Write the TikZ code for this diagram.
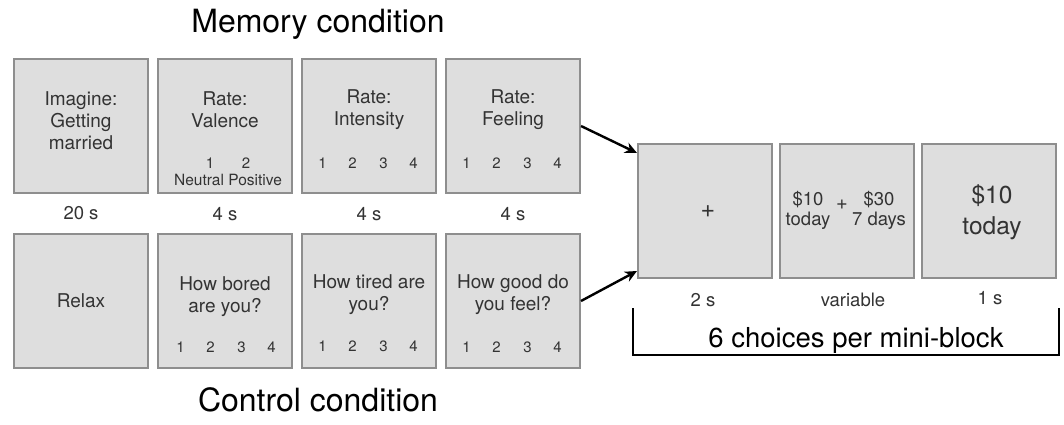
\documentclass[tikz,border=0pt]{standalone}
\usepackage{fontspec}
\setmainfont{TeX Gyre Heros}
\usetikzlibrary{arrows.meta}
\definecolor{panel}{HTML}{DEDEDE}
\definecolor{rim}{HTML}{8E8E8E}
\definecolor{ink}{HTML}{333333}
\newcommand{\ratefour}{\makebox[29pt]{1}\makebox[31pt]{2}\makebox[31pt]{3}\makebox[29pt]{4}}
\tikzset{
  screen/.style={draw=rim,line width=2pt,fill=panel,minimum width=134pt,
    minimum height=134pt,inner sep=0pt},
  txt/.style={align=center,text=ink,font=\fontsize{19}{22}\selectfont,inner sep=0pt},
  dur/.style={text=ink,font=\fontsize{18.5}{22}\selectfont,inner sep=0pt},
  nums/.style={text=ink,font=\fontsize{15}{18}\selectfont,inner sep=0pt},
  head/.style={text=black,font=\fontsize{32}{36}\selectfont,inner sep=0pt,anchor=base},
  flow/.style={-{Stealth[length=12pt,width=11pt]},line width=2.4pt},
  brace/.style={line width=2pt}
}

\begin{document}
\begin{tikzpicture}[x=1pt,y=-1pt]
  \useasboundingbox (0,0) rectangle (1064,425);
  % memory condition
  \node[head] (mem) at (318,33) {Memory condition};
  \node[screen] (m1) at (81,126) {};
  \node[screen] (m2) at (225,126) {};
  \node[screen] (m3) at (369,126) {};
  \node[screen] (m4) at (513,126) {};
  \node[txt] (m1t) at (81,121) {Imagine:\\Getting\\married};
  \node[txt] (m2t) at (225,110) {Rate:\\Valence};
  \node[nums] (m2n) at (228,163) {\makebox[36pt]{1}\makebox[36pt]{2}};
  \node[nums,font=\fontsize{15.5}{18}\selectfont] (m2l) at (228,180) {Neutral Positive};
  \node[txt] (m3t) at (369,110) {Rate:\\Intensity};
  \node[nums] (m3n) at (368,163) {\ratefour};
  \node[txt] (m4t) at (513,110) {Rate:\\Feeling};
  \node[nums] (m4n) at (512,163) {\ratefour};
  \node[dur] (d1) at (81,213) {20 s};
  \node[dur] (d2) at (225,214) {4 s};
  \node[dur] (d3) at (369,214) {4 s};
  \node[dur] (d4) at (513,214) {4 s};

  % control condition
  \node[screen,txt] (c1) at (81,301) {Relax};
  \node[screen] (c2) at (225,301) {};
  \node[screen] (c3) at (369,301) {};
  \node[screen] (c4) at (513,301) {};
  \node[txt] (c2t) at (225,297) {How bored\\are you?};
  \node[nums] (c2n) at (226,347) {\ratefour};
  \node[txt] (c3t) at (369,295) {How tired are\\you?};
  \node[nums] (c3n) at (368,346) {\ratefour};
  \node[txt] (c4t) at (513,295) {How good do\\you feel?};
  \node[nums] (c4n) at (512,347) {\ratefour};
  \node[head] (ctl) at (318,411) {Control condition};

  % choice trial
  \node[screen] (ca) at (705,211) {};
  \node[text=ink,font=\fontsize{25}{28}\selectfont,inner sep=0pt] (cap) at (708,212) {+};
  \node[screen] (cb) at (847,211) {};
  \node[screen] (cc) at (989,211) {};
  \node[txt,font=\fontsize{18.5}{20}\selectfont] (cbl) at (808,210) {\$10\\today};
  \node[text=ink,font=\fontsize{20}{22}\selectfont,inner sep=0pt] (cbp) at (842,205) {+};
  \node[txt,font=\fontsize{18.5}{20}\selectfont] (cbr) at (879,210) {\$30\\7 days};
  \node[txt,font=\fontsize{24.5}{30.5}\selectfont] (cct) at (992,212) {\$10\\today};
  \node[dur] (da) at (703,300) {2 s};
  \node[dur] (db) at (853,300) {variable};
  \node[dur] (dc) at (990,298) {1 s};
  \draw[flow] (m4.east) -- ([yshift=-10pt]ca.north west);
  \draw[flow] (c4.east) -- ([yshift=8pt]ca.south west);

  \coordinate (b1) at (633,308);
  \coordinate (b2) at (633,355);
  \coordinate (b3) at (1059,355);
  \coordinate (b4) at (1059,308);
  \draw[brace] (b1) -- (b2) -- (b3) -- (b4);
  \node[head,font=\fontsize{27.5}{30}\selectfont] (blk) at (856,347) {6 choices per mini-block};
\end{tikzpicture}
\end{document}
